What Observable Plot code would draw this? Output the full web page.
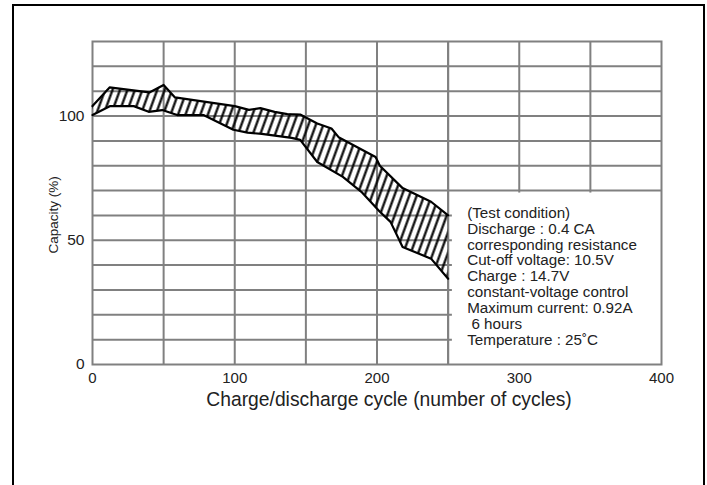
<!DOCTYPE html>
<html><head><meta charset="utf-8">
<script src="https://cdn.jsdelivr.net/npm/d3@7"></script>
<script src="https://cdn.jsdelivr.net/npm/@observablehq/plot@0.6"></script>
<style>
body{margin:0;background:#fff;overflow:hidden;}
#chart{position:relative;width:707px;height:485px;}
#border{position:absolute;left:12px;top:4px;width:689px;height:600px;border:2px solid #000;pointer-events:none;}
</style></head><body>
<div id="chart"><div id="border"></div></div>
<script>
// Upper edge of the capacity band
const upperCycles = [0, 12, 40, 50, 58, 76, 100, 110, 118, 128, 137, 146, 158, 168, 173, 199, 202, 218, 238, 250];
const upperCap    = [104, 111.5, 109.5, 112.5, 107.5, 106, 104, 102.5, 103.2, 101.7, 100.8, 100.6, 97, 95, 91.5, 83.5, 80, 71, 65.5, 60];
// Lower edge of the capacity band
const lowerCycles = [0, 12.5, 29, 39.5, 49, 59.5, 78, 99, 109, 119, 140, 146, 158, 176, 189, 202, 209.5, 218, 238, 250];
const lowerCap    = [100.4, 104, 104, 101.7, 102.4, 100.4, 100.4, 94.5, 93.3, 92.8, 91.2, 90.4, 81.5, 75.5, 69.5, 61.5, 57.4, 47.3, 42.6, 34.5];

const xTicks = [0, 100, 200, 300, 400];
const yTicks = [0, 50, 100];
const xGrid = [50, 100, 150, 200, 250, 300, 350];
const yGrid = [10, 20, 30, 40, 50, 60, 70, 80, 90, 100, 110, 120];

const xLabel = "Charge/discharge cycle (number of cycles)";
const yLabel = "Capacity (%)";
const legendLines = [
  "(Test condition)",
  "Discharge : 0.4 CA",
  "corresponding resistance",
  "Cut-off voltage: 10.5V",
  "Charge : 14.7V",
  "constant-voltage control",
  "Maximum current: 0.92A",
  "\u00a06 hours",
  "Temperature : 25\u02daC"
];

const upper = upperCycles.map((c, i) => ({cycle: c, cap: upperCap[i]}));
const lower = lowerCycles.map((c, i) => ({cycle: c, cap: lowerCap[i]}));
const idx = d3.range(upperCycles.length);
const noteBox = [{x1: 253, x2: 400, y1: 0, y2: 69}];
const notePos = {x: 263.4, y: 63.6};
const yLabelPos = {x: -27.3, y: 60.2};

const svg = Plot.plot({
  width: 707, height: 485,
  marginLeft: 92, marginRight: 46, marginTop: 41, marginBottom: 121,
  style: {fontFamily: "'Liberation Sans', Arial, sans-serif", color: "#222", background: "transparent"},
  x: {domain: [0, 400]},
  y: {domain: [0, 130]},
  marks: [
    Plot.ruleX(xGrid, {stroke: "#808080", strokeWidth: 2}),
    Plot.ruleY(yGrid, {stroke: "#808080", strokeWidth: 2}),
    Plot.rect(noteBox, {x1: "x1", x2: "x2", y1: "y1", y2: "y2", fill: "white"}),
    Plot.ruleX([250], {stroke: "#808080", strokeWidth: 2}),
    Plot.frame({stroke: "#808080", strokeWidth: 2}),
    Plot.area(idx, {
      x1: i => upperCycles[i], y1: i => upperCap[i],
      x2: i => lowerCycles[i], y2: i => lowerCap[i],
      fill: "url(#hatch)"
    }),
    Plot.line(upper, {x: "cycle", y: "cap", stroke: "#000", strokeWidth: 2.2}),
    Plot.line(lower, {x: "cycle", y: "cap", stroke: "#000", strokeWidth: 2.2}),
    Plot.axisX({ticks: xTicks, tickSize: 0, tickPadding: 8, fontSize: 15, label: null}),
    Plot.axisY({ticks: yTicks, tickSize: 0, tickPadding: 8, fontSize: 15.5, label: null}),
    Plot.text([xLabel], {text: d => d, frameAnchor: "bottom", lineAnchor: "middle", dx: 12, dy: 35, fontSize: 19.3}),
    Plot.text([yLabel], {text: d => d, x: yLabelPos.x, y: yLabelPos.y, rotate: -90, textAnchor: "middle", lineAnchor: "middle", fontSize: 13.5, clip: false}),
    Plot.text([legendLines.join("\n")], {text: d => d, x: notePos.x, y: notePos.y, textAnchor: "start", lineAnchor: "top", lineHeight: 1.045, fontSize: 15.2})
  ]
});

const defs = d3.select(svg).insert("defs", ":first-child");
const pat = defs.append("pattern")
  .attr("id", "hatch")
  .attr("patternUnits", "userSpaceOnUse")
  .attr("width", 7).attr("height", 10)
  .attr("patternTransform", "rotate(20)");
pat.append("line").attr("x1", 3.5).attr("y1", -1).attr("x2", 3.5).attr("y2", 11)
  .attr("stroke", "#000").attr("stroke-width", 2.2);

document.getElementById("chart").insertBefore(svg, document.getElementById("border"));
svg.style.position = "absolute";
svg.style.left = "0"; svg.style.top = "0";
</script>
</body></html>
